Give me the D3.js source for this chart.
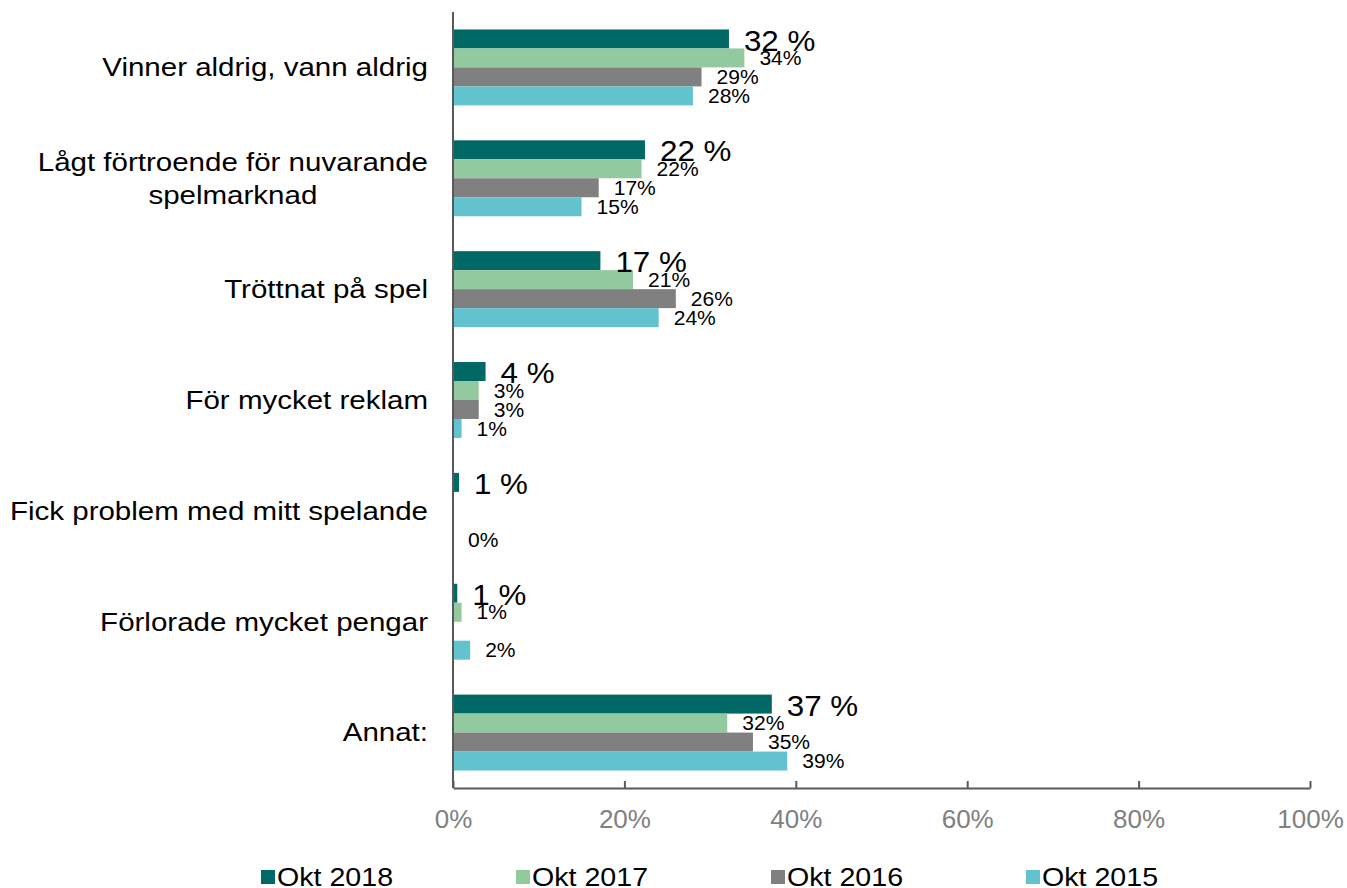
<!DOCTYPE html>
<html>
<head>
<meta charset="utf-8">
<script src="https://cdn.jsdelivr.net/npm/d3@7/dist/d3.min.js"></script>
<style>
  body { margin: 0; background: #fff; }
  svg { display: block; font-family: "Liberation Sans", Arial, sans-serif; }
</style>
</head>
<body>
<svg id="chart" width="1347" height="888"></svg>
<script>
const categories = [
  "Vinner aldrig, vann aldrig",
  "Lågt förtroende för nuvarande|spelmarknad",
  "Tröttnat på spel",
  "För mycket reklam",
  "Fick problem med mitt spelande",
  "Förlorade mycket pengar",
  "Annat:"
];
const seriesNames = ["Okt 2018", "Okt 2017", "Okt 2016", "Okt 2015"];
const okt2018 = [32.2, 22.4, 17.2, 3.8, 0.7, 0.5, 37.2];
const okt2017 = [34, 22, 21, 3, null, 1, 32];
const okt2016 = [29, 17, 26, 3, null, null, 35];
const okt2015 = [28, 15, 24, 1, 0, 2, 39];
const xTicks = [0, 20, 40, 60, 80, 100];
const colors = ["#006865", "#93C99E", "#808080", "#62C3CF"];

const seriesValues = [okt2018, okt2017, okt2016, okt2015];
const svg = d3.select("#chart");

const plotLeft = 453, plotRight = 1310, plotTop = 12, plotBottom = 788;

const x = d3.scaleLinear().domain([0, 100]).range([plotLeft, plotRight]);
const y0 = d3.scaleBand().domain(categories).range([plotTop, plotBottom])
  .paddingInner(0.315).paddingOuter(0.1575);
const y1 = d3.scaleBand().domain(seriesNames).range([0, y0.bandwidth()]);
const color = d3.scaleOrdinal().domain(seriesNames).range(colors);

const data = [];
categories.forEach((c, i) => {
  seriesNames.forEach((s, j) => {
    const v = seriesValues[j][i];
    if (v !== null && v !== undefined) data.push({ cat: c, series: s, j, value: v });
  });
});

// bars
svg.append("g").selectAll("rect").data(data).join("rect")
  .attr("x", x(0))
  .attr("y", d => y0(d.cat) + y1(d.series))
  .attr("width", d => x(d.value) - x(0))
  .attr("height", y1.bandwidth())
  .attr("fill", d => color(d.series));

// x axis
const xAxis = d3.axisBottom(x).tickValues(xTicks).tickFormat(d => d + "%")
  .tickSizeInner(-7).tickSizeOuter(0).tickPadding(22);
const gx = svg.append("g").attr("transform", `translate(0,${plotBottom})`).call(xAxis);
gx.select(".domain").attr("stroke", "#595959").attr("stroke-width", 2);
gx.selectAll(".tick line").attr("stroke", "#595959").attr("stroke-width", 2);
gx.selectAll(".tick text").attr("fill", "#808080")
  .style("font-size", "26px").style("font-family", "'Liberation Sans', Arial, sans-serif");

// y axis line
svg.append("line")
  .attr("x1", plotLeft).attr("x2", plotLeft).attr("y1", plotTop).attr("y2", plotBottom)
  .attr("stroke", "#595959").attr("stroke-width", 2);

// data labels
svg.append("g").selectAll("text").data(data).join("text")
  .attr("transform", d => {
    const tx = x(d.value) + 15;
    const ty = y0(d.cat) + y1(d.series) + y1.bandwidth() / 2 + (d.j === 0 ? 1.5 : 0.5);
    return `translate(${tx},${ty}) scale(1.08,1)`;
  })
  .attr("dominant-baseline", "central")
  .attr("fill", "#000")
  .style("font-size", d => d.j === 0 ? "29px" : "19.5px")
  .text(d => d.j === 0 ? Math.round(d.value) + " %" : Math.round(d.value) + "%");

// category labels
const labelRight = 428;
const catG = svg.append("g");
categories.forEach(c => {
  const lines = c.split("|");
  const cy = y0(c) + y0.bandwidth() / 2;
  const lh = 33;
  const g = catG.append("g")
    .attr("transform", `translate(${labelRight},0) scale(1.135,1)`);
  const texts = lines.map((ln, k) => g.append("text")
    .attr("y", cy + (k - (lines.length - 1) / 2) * lh)
    .attr("dominant-baseline", "central")
    .attr("fill", "#000")
    .style("font-size", "26px")
    .text(ln));
  const widths = texts.map(t => t.node().getComputedTextLength());
  const maxW = d3.max(widths);
  texts.forEach(t => t.attr("x", -maxW / 2).attr("text-anchor", "middle"));
});

// legend
const legendX = d3.scalePoint().domain(seriesNames).range([261, 1026]);
const lg = svg.append("g").selectAll("g").data(seriesNames).join("g")
  .attr("transform", d => `translate(${legendX(d)},877)`);
lg.append("rect").attr("x", 0).attr("y", -7).attr("width", 14).attr("height", 14)
  .attr("fill", d => color(d));
lg.append("text").attr("transform", "translate(16,0) scale(1.1,1)")
  .attr("dominant-baseline", "central").attr("fill", "#000")
  .style("font-size", "26px").text(d => d);
</script>
</body>
</html>
